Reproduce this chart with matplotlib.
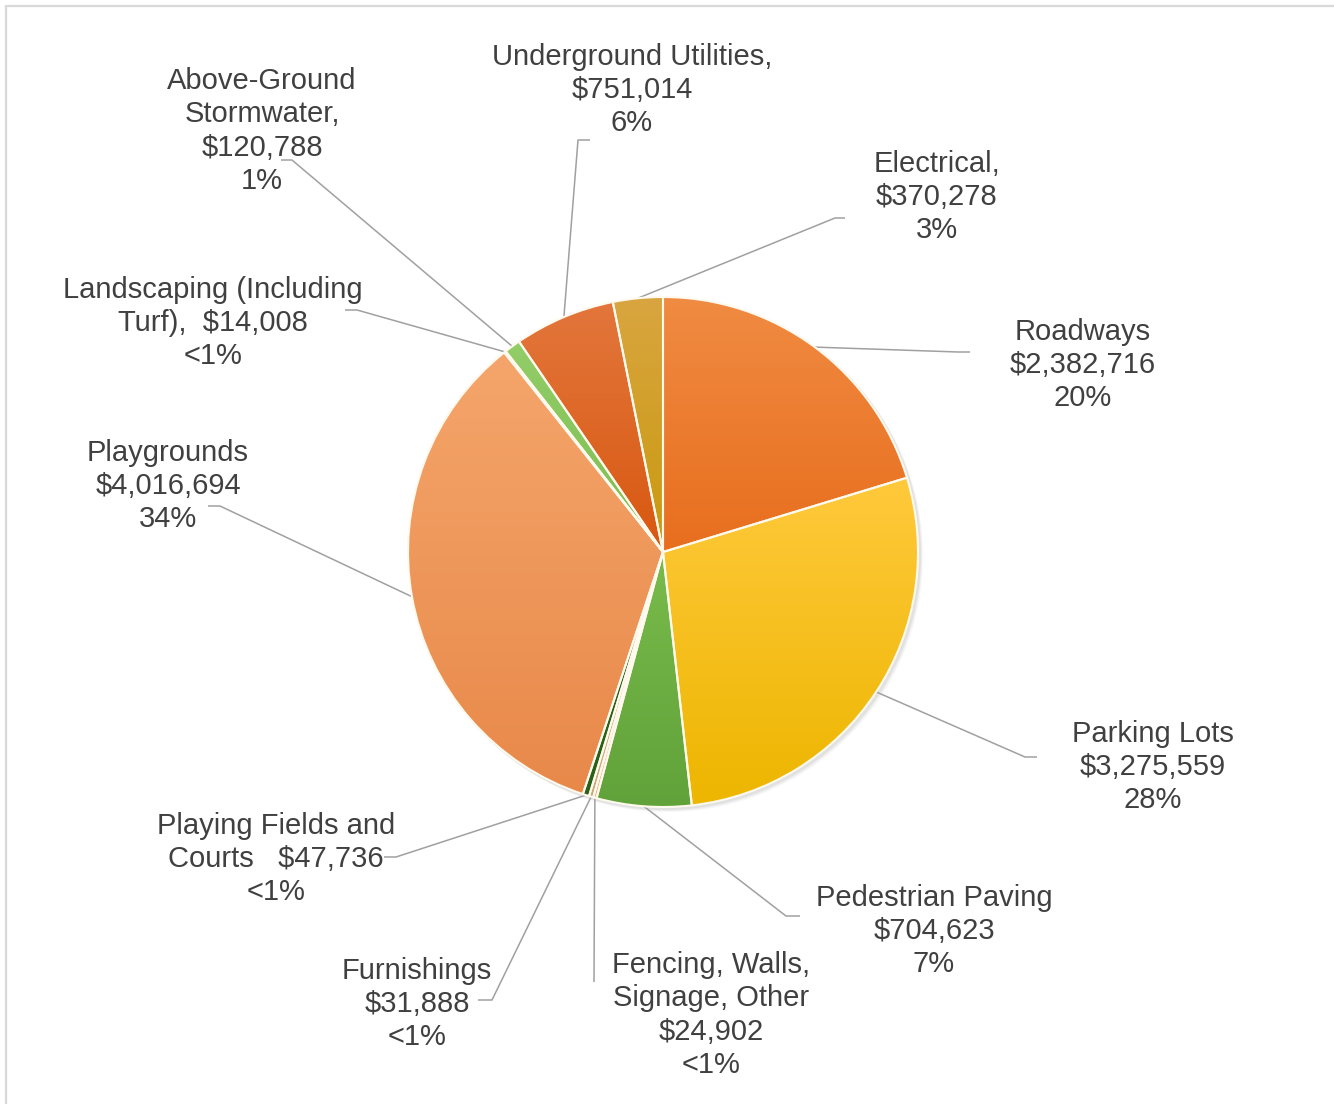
import numpy as np
import matplotlib
matplotlib.use("Agg")
import matplotlib.pyplot as plt
from matplotlib.colors import to_rgb
from matplotlib.patches import Rectangle, Circle

# ---------------------------------------------------------------------------
# Data (clockwise from 12 o'clock)
# ---------------------------------------------------------------------------
categories = [
    "Roadways", "Parking Lots", "Pedestrian Paving",
    "Fencing, Walls,\nSignage, Other", "Furnishings",
    "Playing Fields and\nCourts", "Playgrounds",
    "Landscaping (Including\nTurf),", "Above-Ground\nStormwater,",
    "Underground Utilities,", "Electrical,",
]
values = [2382716, 3275559, 704623, 24902, 31888, 47736,
          4016694, 14008, 120788, 751014, 370278]
pct_labels = ["20%", "28%", "7%", "<1%", "<1%", "<1%",
              "34%", "<1%", "1%", "6%", "3%"]
name_value_sep = ["\n", "\n", "\n", "\n", "\n", "   ",
                  "\n", "  ", "\n", "\n", "\n"]

# ---------------------------------------------------------------------------
# Styling
# ---------------------------------------------------------------------------
top_colors = ["#F08B42", "#FFC93C", "#79BB4B", "#F8CBAD", "#D9BA8C", "#2F6B1E",
              "#F5A56B", "#A9D18E", "#93CD68", "#E3763C", "#D9A540"]
bot_colors = ["#E86E1E", "#EDB600", "#61A23A", "#F4B183", "#C9A878", "#2A6019",
              "#E8894A", "#9BC97E", "#7BBE50", "#D85810", "#C99A0E"]

# label centres and leader (bend, end) points in pixel coordinates
label_xy = [(1083, 365), (1153, 767), (934, 931), (711, 1015), (417, 1004),
            (276, 859), (168, 486), (213, 323), (262, 131), (632, 90), (937, 197)]
leader_bend = [(958, 352), (1025, 757), (786, 916), (594, 982), (492, 1000),
               (396, 857), (220, 506), (357, 310), (292, 160), (578, 140), (835, 218)]
leader_end = [(970, 352), (1037, 757), (800, 916), (594, 982), (478, 1000),
              (384, 857), (208, 506), (345, 310), (281, 160), (590, 140), (845, 218)]

W, H = 1334, 1104
CX, CY, R = 663, 552, 255
TEXT_COLOR = "#404040"
LINE_COLOR = "#A0A0A0"

plt.rcParams['font.family'] = ['Liberation Sans', 'DejaVu Sans']


def px(p):
    """pixel (top-left origin) -> data coords"""
    return p[0], H - p[1]


fig = plt.figure(figsize=(W / 100, H / 100), dpi=100)
ax = fig.add_axes([0, 0, 1, 1])

# soft shadow
for k, a in enumerate([0.10, 0.08, 0.06]):
    ax.add_patch(Circle((CX + 2 + k, H - CY - 2 - k), R + 1, color="#7F7F7F",
                        alpha=a, zorder=0, lw=0))

wedges, _ = ax.pie(values, center=(CX, H - CY), radius=R, startangle=90,
                   counterclock=False, frame=True,
                   wedgeprops=dict(edgecolor="#FFF9EE", linewidth=1.5, facecolor="none"))

for i, w in enumerate(wedges):
    w.set_zorder(3)
    ext = w.get_path().get_extents()
    c1 = np.array(to_rgb(top_colors[i]))
    c2 = np.array(to_rgb(bot_colors[i]))
    t = np.linspace(0, 1, 64)[:, None]
    grad = (c1 * (1 - t) + c2 * t)[:, None, :]
    im = ax.imshow(grad, extent=[ext.x0, ext.x1, ext.y0, ext.y1], origin="upper",
                   aspect="auto", zorder=2, interpolation="bilinear")
    im.set_clip_path(w)

# labels and leader lines
for i, w in enumerate(wedges):
    mid = np.deg2rad((w.theta1 + w.theta2) / 2)
    ax_x = CX + R * np.cos(mid)
    ax_y = H - CY + R * np.sin(mid)
    bx, by = px(leader_bend[i])
    ex, ey = px(leader_end[i])
    ax.plot([ax_x, bx, ex], [ax_y, by, ey], color=LINE_COLOR, lw=1.1, zorder=1,
            solid_capstyle="butt")
    txt = f"{categories[i]}{name_value_sep[i]}${values[i]:,}\n{pct_labels[i]}"
    lx, ly = px(label_xy[i])
    ax.text(lx, ly, txt, ha="center", va="center", multialignment="center",
            fontsize=21, color=TEXT_COLOR, linespacing=1.23, parse_math=False,
            zorder=4)

# chart border (only top/left edges fall inside the image)
ax.add_patch(Rectangle((6, -20), W + 20, H - 6 + 20, fill=False,
                       edgecolor="#D9D9D9", lw=1.6, zorder=5))

ax.set_xlim(0, W)
ax.set_ylim(0, H)
ax.set_aspect("auto")
ax.axis("off")

fig.savefig("out.png", dpi=100, facecolor="white")
